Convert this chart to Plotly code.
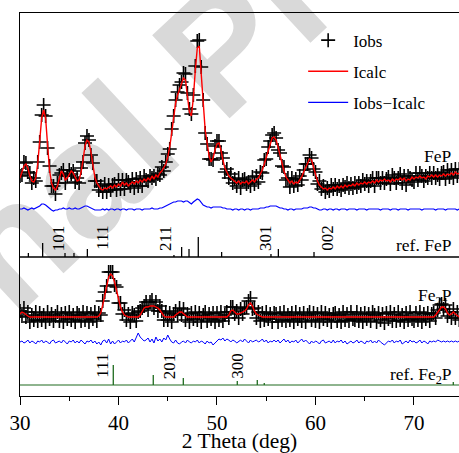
import numpy as np
import plotly.graph_objects as go

# ---------------- data (2-theta grid 30.0 .. 74.6, step 0.2) ----------------
THETA0, STEP, NPTS = 30.0, 0.2, 224
theta = np.round(THETA0 + STEP * np.arange(NPTS), 1)

fep_obs = [
    81, 82, 95, 94, 85, 84, 74, 79, 76, 95,
    115, 142, 152, 141, 109, 91, 71, 71, 63, 74,
    82, 84, 87, 74, 81, 87, 83, 86, 75, 79,
    74, 89, 95, 114, 121, 117, 102, 94, 76, 76,
    67, 71, 65, 73, 65, 72, 67, 72, 73, 67,
    77, 68, 77, 68, 77, 75, 71, 78, 69, 78,
    71, 79, 71, 81, 77, 76, 81, 79, 81, 78,
    83, 82, 90, 86, 95, 103, 108, 128, 141, 157,
    165, 172, 175, 184, 183, 164, 148, 143, 162, 191,
    216, 217, 190, 157, 124, 113, 98, 98, 97, 111,
    116, 116, 104, 99, 85, 88, 79, 83, 74, 78,
    71, 79, 69, 77, 78, 73, 75, 71, 80, 73,
    81, 75, 85, 84, 97, 98, 110, 116, 122, 124,
    119, 107, 104, 91, 90, 77, 79, 70, 79, 71,
    78, 72, 81, 77, 87, 93, 93, 102, 99, 88,
    85, 73, 76, 68, 71, 65, 69, 66, 72, 68,
    72, 68, 71, 67, 72, 70, 74, 69, 73, 69,
    74, 70, 74, 71, 77, 73, 76, 71, 76, 79,
    71, 79, 79, 74, 79, 74, 78, 80, 73, 82,
    79, 74, 79, 83, 74, 81, 72, 81, 79, 77,
    75, 84, 77, 84, 81, 76, 81, 79, 84, 79,
    84, 79, 82, 78, 84, 85, 78, 87, 80, 87,
    79, 88, 81, 88,
]
fep_calc = [
    79, 85, 91, 93, 89, 81, 76, 75, 79, 93,
    117, 139, 147, 139, 112, 87, 74, 69, 67, 71,
    79, 86, 83, 77, 79, 83, 86, 84, 79, 76,
    77, 85, 97, 111, 117, 115, 105, 91, 80, 74,
    71, 68, 67, 69, 68, 70, 71, 69, 72, 70,
    73, 71, 75, 72, 74, 71, 73, 75, 73, 76,
    74, 77, 75, 78, 76, 79, 77, 81, 78, 82,
    80, 84, 86, 89, 93, 100, 110, 124, 139, 154,
    162, 168, 173, 179, 177, 162, 145, 141, 159, 187,
    209, 211, 187, 155, 127, 111, 101, 95, 99, 107,
    113, 114, 107, 97, 89, 85, 81, 79, 77, 76,
    74, 76, 73, 75, 74, 76, 73, 75, 77, 75,
    78, 79, 83, 87, 93, 100, 107, 114, 119, 120,
    117, 110, 101, 93, 86, 80, 77, 74, 76, 73,
    75, 74, 77, 80, 85, 90, 95, 98, 97, 91,
    83, 76, 72, 70, 68, 69, 67, 69, 68, 70,
    68, 71, 69, 71, 69, 72, 70, 72, 71, 73,
    71, 74, 72, 74, 73, 75, 73, 75, 74, 76,
    74, 77, 75, 77, 76, 78, 76, 77, 75, 78,
    76, 78, 77, 79, 77, 79, 76, 78, 77, 80,
    78, 80, 79, 81, 79, 80, 78, 81, 80, 82,
    80, 82, 80, 82, 81, 83, 81, 83, 82, 84,
    82, 85, 83, 84,
]
fep_diff = [
    0, 0, 1, 0, -1, 0, 1, 0, 1, 2,
    3, 5, 5, 4, 2, 0, -1, -2, -1, -1,
    0, 0, 1, 0, 0, 1, 0, 0, 1, 0,
    0, 1, 2, 3, 3, 2, 1, 0, -1, -1,
    -1, -1, 0, -1, 0, -1, 0, 0, -1, 0,
    0, -1, 0, 0, -1, 0, 0, 0, -1, 0,
    0, 0, -1, 0, 0, 0, 0, 1, 0, 0,
    0, 1, 1, 2, 3, 4, 5, 6, 7, 7,
    8, 8, 8, 7, 8, 8, 6, 5, 7, 9,
    10, 9, 6, 4, 3, 2, 2, 1, 2, 2,
    2, 2, 2, 1, 1, 0, 0, 0, -1, 0,
    0, -1, 0, 0, -1, 0, 0, -1, 0, 0,
    0, 0, 1, 1, 1, 2, 2, 3, 3, 3,
    3, 2, 1, 1, 0, 0, -1, 0, 0, -1,
    0, 0, 0, 0, 1, 1, 1, 2, 2, 1,
    1, 0, -1, -1, 0, 0, -1, 0, 0, -1,
    0, 0, -1, 0, 0, 0, -1, 0, 0, 0,
    0, -1, 0, 0, 0, 0, -1, 0, 0, 0,
    0, 0, 0, -1, 0, 0, 0, 0, -1, 0,
    0, 0, -1, 0, 0, 0, 0, -1, 0, 0,
    0, 0, 0, 0, -1, 0, 0, 0, 0, 0,
    0, -1, 0, 0, 0, 0, -1, 0, 0, 0,
    0, 0, -1, 0,
]

fe2p_obs = [
    74, 69, 77, 68, 73, 63, 70, 65, 73, 64,
    72, 65, 70, 63, 73, 66, 71, 64, 69, 73,
    64, 71, 63, 72, 66, 73, 65, 70, 63, 72,
    70, 64, 73, 65, 72, 63, 71, 66, 73, 64,
    72, 70, 84, 93, 99, 113, 113, 113, 100, 98,
    82, 82, 71, 75, 65, 71, 63, 72, 70, 64,
    73, 74, 77, 79, 83, 75, 83, 85, 77, 83,
    74, 79, 74, 65, 73, 65, 72, 63, 71, 74,
    70, 77, 70, 76, 65, 71, 63, 72, 66, 73,
    65, 72, 63, 70, 73, 64, 71, 66, 72, 63,
    72, 65, 73, 64, 70, 73, 67, 78, 78, 71,
    74, 67, 76, 71, 77, 78, 84, 87, 76, 77,
    67, 73, 64, 72, 65, 73, 66, 71, 63, 72,
    71, 63, 72, 65, 73, 64, 70, 65, 72, 63,
    73, 66, 71, 64, 72, 63, 70, 73, 65, 72,
    64, 71, 63, 73, 66, 72, 65, 70, 63, 71,
    72, 64, 70, 63, 73, 65, 71, 64, 73, 66,
    65, 73, 64, 71, 63, 72, 66, 71, 64, 73,
    70, 63, 72, 65, 71, 62, 72, 66, 73, 64,
    71, 64, 73, 65, 70, 63, 72, 65, 73, 66,
    64, 72, 65, 73, 63, 71, 66, 72, 64, 71,
    72, 67, 75, 80, 81, 76, 80, 69, 73, 67,
    76, 67, 73, 65,
]
fe2p_calc = [
    71, 73, 72, 70, 69, 68, 68, 68, 68, 68,
    68, 68, 68, 68, 68, 68, 68, 68, 68, 68,
    68, 68, 68, 68, 68, 68, 68, 68, 68, 68,
    68, 68, 68, 68, 68, 68, 68, 68, 68, 68,
    69, 72, 80, 90, 101, 108, 111, 109, 103, 94,
    85, 78, 73, 70, 69, 68, 68, 68, 68, 68,
    68, 70, 74, 77, 78, 78, 79, 79, 79, 78,
    77, 75, 72, 69, 68, 68, 68, 68, 68, 70,
    72, 73, 73, 71, 69, 68, 68, 68, 68, 68,
    68, 68, 68, 68, 68, 68, 68, 68, 68, 68,
    68, 68, 68, 68, 68, 68, 70, 74, 75, 73,
    71, 71, 72, 73, 74, 76, 80, 82, 79, 74,
    71, 70, 69, 68, 68, 68, 68, 68, 68, 68,
    68, 68, 68, 68, 68, 68, 68, 68, 68, 68,
    68, 68, 68, 68, 68, 68, 68, 68, 68, 68,
    68, 68, 68, 68, 68, 68, 68, 68, 68, 68,
    68, 68, 68, 68, 68, 68, 68, 68, 68, 68,
    68, 68, 68, 68, 68, 68, 68, 68, 68, 68,
    68, 68, 68, 68, 68, 68, 68, 68, 68, 68,
    68, 68, 68, 68, 68, 68, 68, 68, 68, 68,
    68, 68, 68, 68, 68, 68, 68, 68, 68, 68,
    68, 70, 73, 76, 78, 78, 76, 72, 70, 71,
    73, 71, 69, 68,
]
fe2p_diff = [
    0, 1, -1, 0, 2, -1, 1, 0, -2, 1,
    0, 2, -1, 1, 0, -2, 1, 2, -1, 0,
    1, -1, 2, 0, -2, 1, 0, 2, -1, 1,
    -1, 2, 0, -2, 1, 0, 2, -1, 1, -2,
    0, -3, 1, 2, -1, 3, -2, 1, -2, 0,
    2, -1, 1, 0, 2, -1, 1, 3, 0, 4,
    9, 5, 3, 1, 2, 4, 0, 3, -1, 5,
    1, 3, 0, 4, 2, 7, 3, 0, -1, 2,
    -1, -2, 0, 1, -1, 2, 0, -1, 1, 0,
    2, -1, 1, 0, -2, 1, -1, 0, -3, -1,
    1, 3, 2, 4, 1, 3, 2, 0, 2, 1,
    -1, 1, 2, 0, 3, 1, -1, 2, 0, 1,
    2, 0, 1, 3, 0, 2, -1, 1, 0, 2,
    0, 2, -1, 1, 3, 0, 2, -1, 1, 0,
    2, -1, 1, 3, 0, 2, 0, -2, 1, -1,
    1, 0, -2, 1, 2, -1, 0, 1, -1, 2,
    -1, 1, 0, 2, -1, 1, -2, 0, 1, -1,
    0, 2, -1, 1, 0, -2, 1, 0, 2, -1,
    1, -1, 2, 0, -2, -3, -1, 1, 0, 2,
    -1, 1, 0, 2, -2, 0, 1, -1, 2, 0,
    1, -1, 0, 2, -1, 1, 0, -2, 1, 0,
    1, 0, 2, 1, 0, 1, 0, 1, 0, 1,
    0, 1, 0, 1,
]

# reference reflections
fep_ref_pos = [30.85, 32.30, 34.57, 35.48, 36.84, 45.63, 46.41, 47.16, 48.10, 50.47, 55.48, 56.23, 59.85]
fep_ref_int = [4, 14, 4, 4, 8, 2, 10, 8, 20, 5, 3, 8, 5]
fep_hkl = ["101", "111", "211", "301", "002"]
fep_hkl_pos = [33.89, 38.29, 44.72, 54.87, 61.14]

fe2p_ref_pos = [39.47, 43.53, 46.58, 52.06, 54.09, 54.80, 73.99]
fe2p_ref_int = [20, 10, 7, 4, 5, 2, 3]
fe2p_hkl = ["111", "201", "300"]
fe2p_hkl_pos = [38.29, 45.16, 52.00]

# ---------------- layout offsets (vertical stacking) ----------------
FEP_SHIFT = 139
FEP_DIFF_SHIFT = 187
FEP_REF_BASE = 139
FE2P_SHIFT = 11
FE2P_DIFF_SHIFT = 54
FE2P_REF_BASE = 11
Y_TOP = 383
X_RANGE = [30, 74.57]

SERIF = "Times New Roman, Liberation Serif, serif"


def shift(vals, off):
    return [v + off for v in vals]


def sticks(pos, hts, base):
    xs, ys = [], []
    for p, h in zip(pos, hts):
        xs += [p, p, None]
        ys += [base, base + h, None]
    return xs, ys


fig = go.Figure()

obs_marker = dict(symbol="cross-thin", size=10, color="black",
                  line=dict(width=1.6, color="black"))

fig.add_trace(go.Scatter(x=theta, y=shift(fep_obs, FEP_SHIFT), mode="markers",
                         marker=obs_marker, name="Iobs", legendgroup="a"))
fig.add_trace(go.Scatter(x=theta, y=shift(fep_calc, FEP_SHIFT), mode="lines",
                         line=dict(color="#ff0000", width=1.4), name="Icalc", legendgroup="b"))
fig.add_trace(go.Scatter(x=theta, y=shift(fep_diff, FEP_DIFF_SHIFT), mode="lines",
                         line=dict(color="#0000ff", width=1.2), name="Iobs\u2212Icalc", legendgroup="c"))
sx, sy = sticks(fep_ref_pos, fep_ref_int, FEP_REF_BASE)
fig.add_trace(go.Scatter(x=sx, y=sy, mode="lines", line=dict(color="black", width=1.3),
                         showlegend=False, hoverinfo="skip"))

fig.add_trace(go.Scatter(x=theta, y=shift(fe2p_obs, FE2P_SHIFT), mode="markers",
                         marker=obs_marker, showlegend=False))
fig.add_trace(go.Scatter(x=theta, y=shift(fe2p_calc, FE2P_SHIFT), mode="lines",
                         line=dict(color="#ff0000", width=1.4), showlegend=False))
fig.add_trace(go.Scatter(x=theta, y=shift(fe2p_diff, FE2P_DIFF_SHIFT), mode="lines",
                         line=dict(color="#0000ff", width=1.0), showlegend=False))
sx, sy = sticks(fe2p_ref_pos, fe2p_ref_int, FE2P_REF_BASE)
fig.add_trace(go.Scatter(x=sx, y=sy, mode="lines", line=dict(color="#1e6b1e", width=1.3),
                         showlegend=False, hoverinfo="skip"))

# baselines of the reference patterns
fig.add_shape(type="line", xref="paper", x0=0, x1=1, yref="y", y0=FEP_REF_BASE, y1=FEP_REF_BASE,
              line=dict(color="black", width=1.3))
fig.add_shape(type="line", xref="paper", x0=0, x1=1, yref="y", y0=FE2P_REF_BASE, y1=FE2P_REF_BASE,
              line=dict(color="#1e6b1e", width=1.2))

# watermark
fig.add_shape(type="line", xref="paper", yref="paper", x0=0.412, y0=0.935, x1=0.447, y1=0.935,
              layer="below", line=dict(width=0, color="rgba(0,0,0,0)"),
              label=dict(text="Journal Pre-proof", textangle=-43, textposition="middle",
                         xanchor="center", yanchor="middle",
                         font=dict(family="Liberation Sans", size=165, color="#d9d9d9",
                                   weight="bold")))

ann = []
for t, p in zip(fep_hkl, fep_hkl_pos):
    ann.append(dict(x=p, y=FEP_REF_BASE + 19, text=t, textangle=-90, showarrow=False,
                    xanchor="center", yanchor="middle", font=dict(family=SERIF, size=17, color="black")))
for t, p in zip(fe2p_hkl, fe2p_hkl_pos):
    ann.append(dict(x=p, y=FE2P_REF_BASE + 19, text=t, textangle=-90, showarrow=False,
                    xanchor="center", yanchor="middle", font=dict(family=SERIF, size=17, color="black")))

lab_font = dict(family=SERIF, size=17.5, color="black")
ann += [
    dict(xref="paper", x=0.988, y=240, text="FeP", showarrow=False, xanchor="right",
         yanchor="middle", font=lab_font),
    dict(xref="paper", x=0.988, y=151, text="ref. FeP", showarrow=False, xanchor="right",
         yanchor="middle", font=lab_font),
    dict(xref="paper", x=0.988, y=100, text="Fe<sub>2</sub>P", showarrow=False, xanchor="right",
         yanchor="middle", font=lab_font),
    dict(xref="paper", x=0.988, y=21, text="ref. Fe<sub>2</sub>P", showarrow=False, xanchor="right",
         yanchor="middle", font=lab_font),
]

fig.update_layout(
    width=459, height=453,
    margin=dict(l=20, r=0, t=13, b=57),
    paper_bgcolor="white", plot_bgcolor="rgba(0,0,0,0)",
    annotations=ann,
    showlegend=True,
    legend=dict(x=0.645, y=0.975, xanchor="left", yanchor="top", bgcolor="rgba(0,0,0,0)",
                font=dict(family=SERIF, size=17, color="black"), tracegroupgap=6,
                itemwidth=40),
    xaxis=dict(range=X_RANGE, showline=True, linecolor="black", linewidth=1.3, mirror=True,
               ticks="outside", ticklen=8, tickwidth=1.3, tickcolor="black",
               tick0=30, dtick=10, showgrid=False, zeroline=False, automargin=False,
               tickfont=dict(family=SERIF, size=21, color="black"),
               minor=dict(dtick=5, ticks="outside", ticklen=4, tickwidth=1.3, tickcolor="black",
                          showgrid=False),
               title=dict(text="2 Theta (deg)", font=dict(family=SERIF, size=21.5, color="black"),
                          standoff=6)),
    yaxis=dict(range=[0, Y_TOP], showline=True, linecolor="black", linewidth=1.3,
               showticklabels=False, ticks="", showgrid=False, zeroline=False),
)

fig.write_html("out.html")
